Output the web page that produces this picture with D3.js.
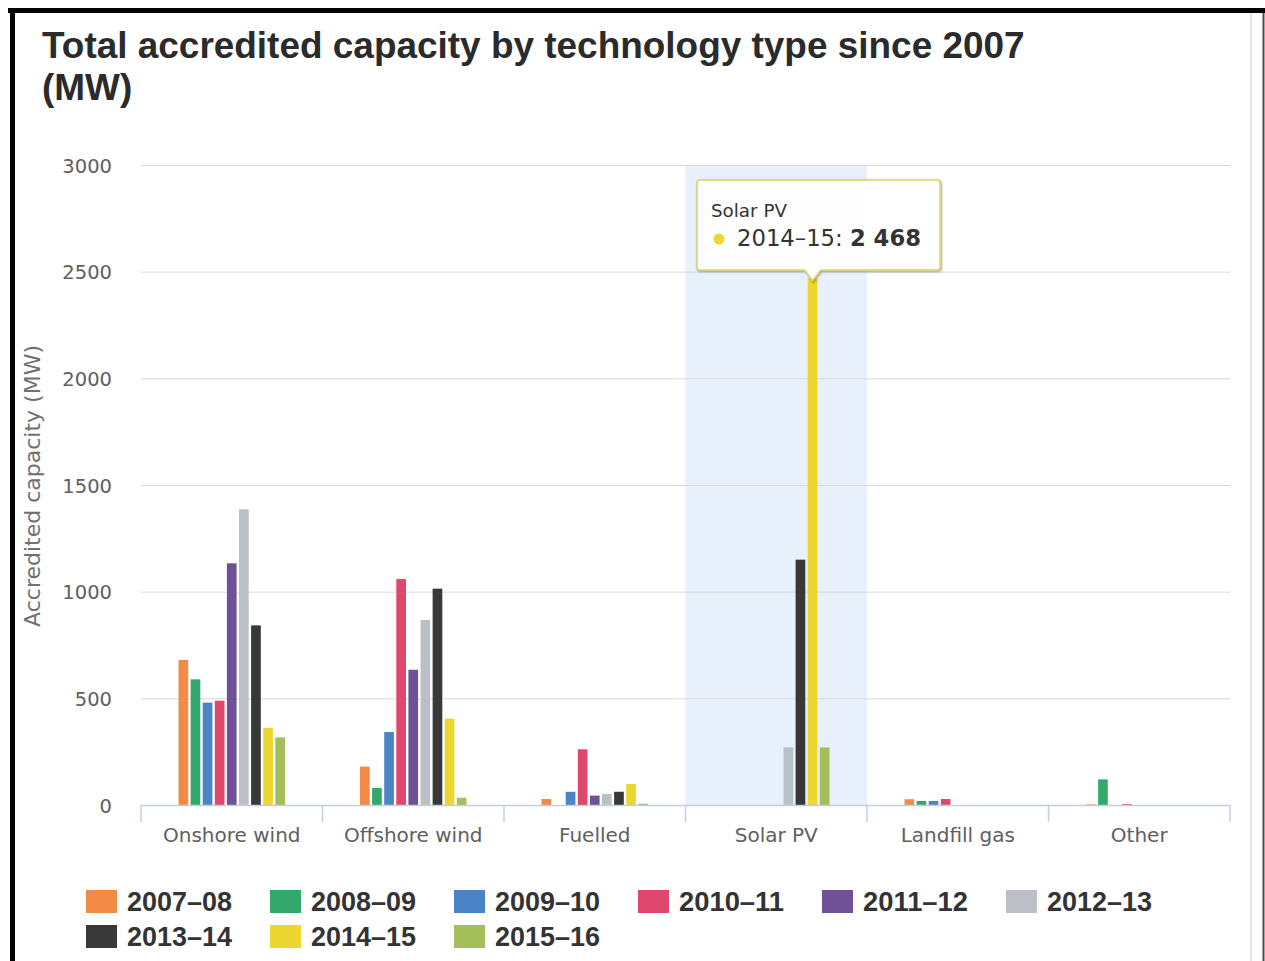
<!DOCTYPE html>
<html>
<head>
<meta charset="utf-8">
<script src="https://cdn.jsdelivr.net/npm/d3@7/dist/d3.min.js"></script>
<style>
  html, body { margin: 0; padding: 0; background: #ffffff; }
  svg { display: block; }
</style>
</head>
<body>
<svg id="chart" width="1265" height="961"></svg>
<script>
// ---------------- DATA ----------------
const categories = ["Onshore wind", "Offshore wind", "Fuelled", "Solar PV", "Landfill gas", "Other"];
const seriesNames = ["2007–08", "2008–09", "2009–10", "2010–11", "2011–12", "2012–13", "2013–14", "2014–15", "2015–16"];
const s2007_08 = [680, 180, 28, 0, 27, 3];
const s2008_09 = [589, 80, 0, 0, 19, 120];
const s2009_10 = [480, 342, 62, 0, 19, 0];
const s2010_11 = [489, 1059, 261, 0, 28, 4];
const s2011_12 = [1133, 634, 44, 0, 0, 0];
const s2012_13 = [1386, 867, 52, 270, 0, 0];
const s2013_14 = [842, 1014, 62, 1150, 0, 0];
const s2014_15 = [362, 405, 98, 2468, 0, 0];
const s2015_16 = [317, 34, 6, 270, 0, 0];
const seriesColors = ["#F28B45", "#33A86C", "#4A84C6", "#E0476D", "#6E5196", "#BAC0C6", "#383838", "#ECD630", "#A4BE5C"];
const yTicks = [0, 500, 1000, 1500, 2000, 2500, 3000];
const titleLines = ["Total accredited capacity by technology type since 2007", "(MW)"];
const yAxisTitle = "Accredited capacity (MW)";
const tooltipCategory = "Solar PV";
const tooltipSeries = "2014–15";
const tooltipValueText = "2 468";

const seriesValues = [s2007_08, s2008_09, s2009_10, s2010_11, s2011_12, s2012_13, s2013_14, s2014_15, s2015_16];
const series = seriesNames.map((name, i) => ({ name, color: seriesColors[i], values: seriesValues[i] }));

// ---------------- LAYOUT ----------------
const svg = d3.select("#chart");
const plot = { left: 141, right: 1230, top: 165, bottom: 805 };
const font = "'DejaVu Sans', Verdana, sans-serif";

function fitWidth(sel, target) {
  const w = sel.node().getComputedTextLength();
  const fs = parseFloat(sel.attr("font-size"));
  sel.attr("font-size", (fs * target / w).toFixed(2));
  return sel;
}

// frame
svg.append("rect").attr("x", 8).attr("y", 8).attr("width", 1257).attr("height", 5).attr("fill", "#000");
svg.append("rect").attr("x", 10).attr("y", 8).attr("width", 5).attr("height", 953).attr("fill", "#000");
svg.append("line").attr("x1", 1251).attr("x2", 1251).attr("y1", 13).attr("y2", 961)
  .attr("stroke", "#dedede").attr("stroke-width", 1.5);
svg.append("line").attr("x1", 1263.5).attr("x2", 1263.5).attr("y1", 13).attr("y2", 961)
  .attr("stroke", "#4a4a4a").attr("stroke-width", 2);

// scales
const x0 = d3.scaleBand().domain(categories).range([plot.left, plot.right]).padding(0);
const groupPad = x0.bandwidth() * 0.2;
const x1 = d3.scaleBand().domain(seriesNames)
  .range([groupPad, x0.bandwidth() - groupPad]).paddingInner(0.2).paddingOuter(0.1);
const y = d3.scaleLinear().domain([0, 3000]).range([plot.bottom, plot.top]);

// hover highlight band (Solar PV)
svg.append("rect")
  .attr("x", x0(tooltipCategory)).attr("y", plot.top)
  .attr("width", x0.bandwidth()).attr("height", plot.bottom - plot.top)
  .attr("fill", "#e8f0fb");

// gridlines + y labels
const yAxis = d3.axisLeft(y).tickValues(yTicks).tickSize(-(plot.right - plot.left)).tickFormat(d3.format("d"));
const gy = svg.append("g").attr("transform", `translate(${plot.left},0)`).call(yAxis);
gy.select(".domain").remove();
gy.selectAll(".tick line").attr("stroke", "#d9d9d9").attr("stroke-width", 1)
  .filter(d => d === 0).remove();
gy.selectAll(".tick text").attr("x", -29).attr("dy", "0.36em")
  .attr("font-family", font).attr("font-size", 19.5).attr("fill", "#606060");

// y axis title
svg.append("text")
  .attr("transform", `translate(40,${(plot.top + plot.bottom) / 2 + 1}) rotate(-90)`)
  .attr("text-anchor", "middle")
  .attr("font-family", font).attr("font-size", 18).attr("fill", "#707070")
  .text(yAxisTitle)
  .call(s => fitWidth(s, 282));

// bars
const groups = svg.append("g").selectAll("g").data(categories).join("g")
  .attr("transform", d => `translate(${x0(d)},0)`);
groups.selectAll("rect")
  .data((c, ci) => series.map(s => ({ name: s.name, color: s.color, value: s.values[ci] })))
  .join("rect")
  .attr("x", d => x1(d.name))
  .attr("width", x1.bandwidth())
  .attr("y", d => y(d.value))
  .attr("height", d => y(0) - y(d.value))
  .attr("fill", d => d.color);

// x axis
const xAxis = d3.axisBottom(x0).tickSize(0).tickPadding(0);
const gx = svg.append("g").attr("transform", `translate(0,${plot.bottom})`).call(xAxis);
gx.select(".domain").attr("stroke", "#c4cfdc").attr("stroke-width", 1.5);
gx.selectAll(".tick text").attr("y", 37).attr("dy", 0)
  .attr("font-family", font).attr("font-size", 20).attr("fill", "#606060");
// category boundary ticks
const boundaries = categories.map(c => x0(c)).concat([plot.right]);
svg.append("g").selectAll("line").data(boundaries).join("line")
  .attr("x1", d => d).attr("x2", d => d)
  .attr("y1", plot.bottom).attr("y2", plot.bottom + 17)
  .attr("stroke", "#c4cfdc").attr("stroke-width", 1.5);

// title (two separate lines)
const titleFont = "'Liberation Sans', Arial, sans-serif";
const t1 = svg.append("text").attr("x", 42).attr("y", 58)
  .attr("font-family", titleFont).attr("font-weight", "bold").attr("fill", "#2b2b2b")
  .attr("font-size", 32).text(titleLines[0]);
fitWidth(t1, 983);
const tfs = parseFloat(t1.attr("font-size"));
svg.append("text").attr("x", 42).attr("y", 58 + Math.ceil(tfs * 1.12))
  .attr("font-family", titleFont).attr("font-weight", "bold").attr("fill", "#2b2b2b")
  .attr("font-size", tfs).text(titleLines[1]);

// legend
const legend = svg.append("g");
series.forEach((s, i) => {
  const col = i % 6, row = Math.floor(i / 6);
  const lx = 86 + col * 184, ly = 890 + row * 35;
  legend.append("rect").attr("x", lx).attr("y", ly).attr("width", 31).attr("height", 23).attr("fill", s.color);
  const t = legend.append("text").attr("x", lx + 41).attr("y", ly + 21)
    .attr("font-family", titleFont).attr("font-weight", "bold")
    .attr("font-size", 23).attr("fill", "#333").text(s.name);
  fitWidth(t, 105);
});

// tooltip
const ci = categories.indexOf(tooltipCategory);
const si = seriesNames.indexOf(tooltipSeries);
const tipX = x0(tooltipCategory) + x1(tooltipSeries) + x1.bandwidth() / 2;
const tipY = y(seriesValues[si][ci]) + 2;
const bx0 = 697, bx1 = 940, by0 = 180, by1 = 270, r = 3;
const tipPath = `M${bx0 + r},${by0} L${bx1 - r},${by0} Q${bx1},${by0} ${bx1},${by0 + r} L${bx1},${by1 - r} Q${bx1},${by1} ${bx1 - r},${by1}
  L${tipX + 8},${by1} L${tipX},${tipY} L${tipX - 8},${by1} L${bx0 + r},${by1} Q${bx0},${by1} ${bx0},${by1 - r}
  L${bx0},${by0 + r} Q${bx0},${by0} ${bx0 + r},${by0} Z`;
const tip = svg.append("g");
[5, 3, 1].forEach((w, k) => {
  tip.append("path").attr("d", tipPath).attr("transform", "translate(1,1)")
    .attr("fill", "none").attr("stroke", "#000").attr("stroke-opacity", 0.05 * (k + 1)).attr("stroke-width", w);
});
tip.append("path").attr("d", tipPath).attr("fill", "rgba(255,255,255,0.93)")
  .attr("stroke", "#e1d46c").attr("stroke-width", 1.5);
tip.append("text").attr("x", 711).attr("y", 217)
  .attr("font-family", font).attr("font-size", 17).attr("fill", "#333").text(tooltipCategory)
  .call(s => fitWidth(s, 76));
tip.append("circle").attr("cx", 719).attr("cy", 239).attr("r", 5.5).attr("fill", seriesColors[si]);
const tl = tip.append("text").attr("x", 737).attr("y", 246)
  .attr("font-family", font).attr("font-size", 22).attr("fill", "#333");
tl.append("tspan").text(tooltipSeries + ": ");
tl.append("tspan").attr("font-weight", "bold").text(tooltipValueText);
fitWidth(tl, 184);
</script>
</body>
</html>
